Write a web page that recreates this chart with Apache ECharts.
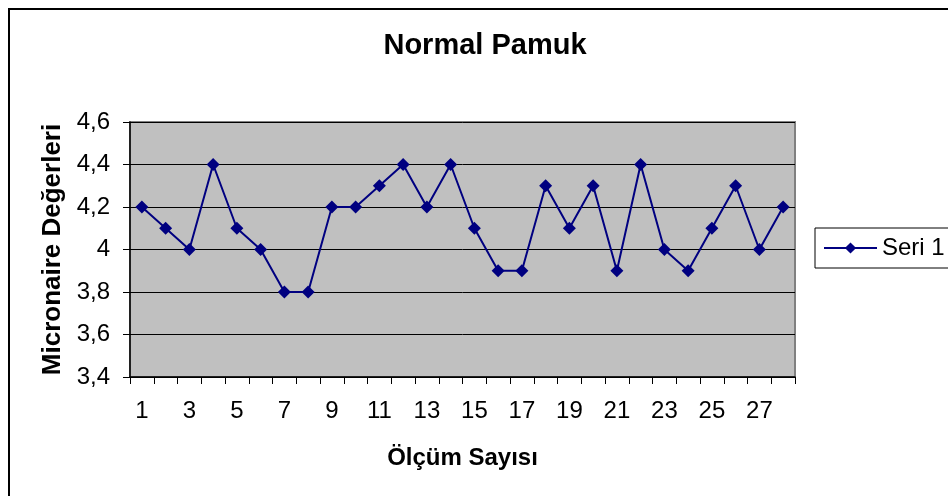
<!DOCTYPE html>
<html>
<head>
<meta charset="utf-8">
<script src="https://cdn.jsdelivr.net/npm/echarts@6/dist/echarts.min.js"></script>
<style>html,body{margin:0;padding:0;background:#fff;}#c{width:948px;height:496px;}</style>
</head>
<body>
<div id="c"></div>
<script>
const titleText = 'Normal Pamuk';
const xAxisName = 'Ölçüm Sayısı';
const yAxisName = 'Micronaire Değerleri';
const seriesName = 'Seri 1';
const categories = ['1','2','3','4','5','6','7','8','9','10','11','12','13','14','15','16','17','18','19','20','21','22','23','24','25','26','27','28'];
const values = [4.2, 4.1, 4.0, 4.4, 4.1, 4.0, 3.8, 3.8, 4.2, 4.2, 4.3, 4.4, 4.2, 4.4, 4.1, 3.9, 3.9, 4.3, 4.1, 4.3, 3.9, 4.4, 4.0, 3.9, 4.1, 4.3, 4.0, 4.2];
const yMin = 3.4, yMax = 4.6, yStep = 0.2;

const chart = echarts.init(document.getElementById('c'), null, {renderer: 'canvas'});
const font = 'Arial, "Liberation Sans", sans-serif';
chart.setOption({
  animation: false,
  backgroundColor: '#fff',
  textStyle: {fontFamily: font},
  graphic: [{
    type: 'rect', shape: {x: 9, y: 9, width: 1000, height: 600},
    style: {fill: 'none', stroke: '#000', lineWidth: 2}, z: 100, silent: true
  }],
  title: {
    text: titleText, left: 485, top: 31, padding: 0, textAlign: 'center',
    textStyle: {fontSize: 29, fontWeight: 'bold', color: '#000', fontFamily: font}
  },
  legend: {
    data: [seriesName], left: 815, top: 228, orient: 'vertical',
    padding: [8, 8, 8, 8], itemWidth: 53, itemHeight: 14, itemGap: 0,
    borderColor: '#000', borderWidth: 1, backgroundColor: '#fff',
    textStyle: {fontSize: 24, color: '#000', fontFamily: font}
  },
  grid: {
    left: 130, top: 122, right: 153, bottom: 119, containLabel: false,
    show: true, backgroundColor: '#c0c0c0', borderColor: '#808080', borderWidth: 2
  },
  xAxis: {
    type: 'category', data: categories, boundaryGap: true,
    name: xAxisName, nameLocation: 'middle', nameGap: 69,
    nameTextStyle: {fontSize: 24, fontWeight: 'bold', color: '#000', fontFamily: font},
    axisLine: {lineStyle: {color: '#000', width: 1.5}},
    axisTick: {show: true, interval: 0, length: 7, alignWithLabel: false, lineStyle: {color: '#000'}},
    axisLabel: {interval: 1, margin: 22, fontSize: 24, color: '#000', fontFamily: font},
    splitLine: {show: false}
  },
  yAxis: {
    type: 'value', min: yMin, max: yMax, interval: yStep,
    name: yAxisName, nameLocation: 'middle', nameGap: 63,
    nameTextStyle: {fontSize: 26, fontWeight: 'bold', color: '#000', fontFamily: font},
    axisLine: {show: true, lineStyle: {color: '#000', width: 1.5}},
    axisTick: {show: true, length: 7, lineStyle: {color: '#000'}},
    axisLabel: {
      margin: 20, fontSize: 24, color: '#000', fontFamily: font,
      formatter: v => String(Number(v.toFixed(1))).replace('.', ',')
    },
    splitLine: {show: true, lineStyle: {color: '#000', width: 1}}
  },
  series: [{
    name: seriesName, type: 'line', data: values,
    symbol: 'diamond', symbolSize: 13,
    lineStyle: {color: '#000080', width: 2},
    itemStyle: {color: '#000080'}
  }]
});
</script>
</body>
</html>
